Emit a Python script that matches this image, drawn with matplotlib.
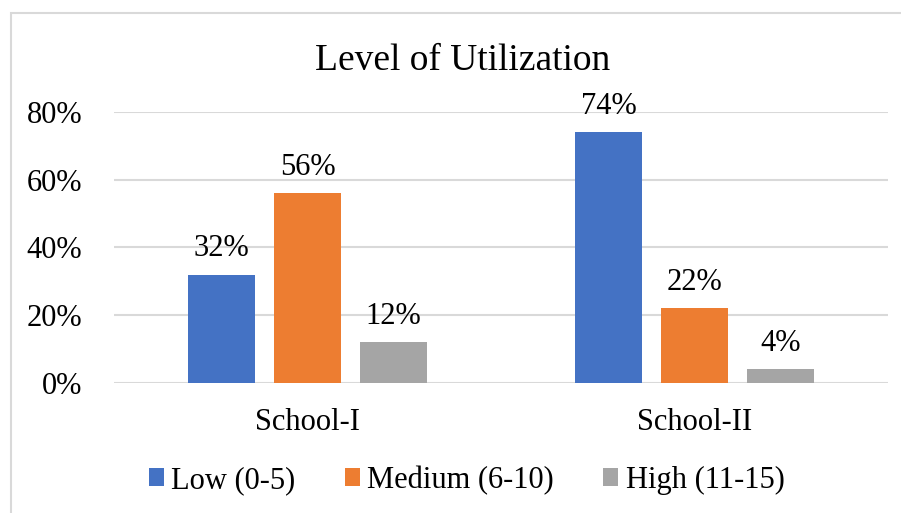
import numpy as np
import matplotlib.pyplot as plt
from matplotlib.patches import Rectangle

schools = ['School-I', 'School-II']
series = ['Low (0-5)', 'Medium (6-10)', 'High (11-15)']
low = [0.32, 0.74]
medium = [0.56, 0.22]
high = [0.12, 0.04]
yticks = [0, 0.2, 0.4, 0.6, 0.8]
ytick_labels = ['0%', '20%', '40%', '60%', '80%']

colors = ['#4472C4', '#ED7D31', '#A5A5A5']

plt.rcParams['font.family'] = ['Liberation Serif', 'DejaVu Serif']

fig = plt.figure(figsize=(9.01, 5.13), dpi=100)
ax = fig.add_axes([114/901, 0.2534, 774/901, 0.5283])

# light frame around the chart (right and bottom edges fall outside the image)
fig.patches.append(Rectangle((11/901, -0.1), 1.2, 1.1 - 13/513, transform=fig.transFigure,
                             fill=False, edgecolor='#D9D9D9', linewidth=1.5))

x = np.arange(len(schools))
w = 0.173
step = 0.222
for i, (vals, name) in enumerate(zip([low, medium, high], series)):
    pos = x + (i - 1) * step
    ax.bar(pos, vals, w, color=colors[i], label=name, zorder=3)
    for p, v in zip(pos, vals):
        ax.annotate('{:.0f}%'.format(v * 100), (p, v), xytext=(0, 8),
                    textcoords='offset points', ha='center', va='bottom', fontsize=22)

ax.set_xlim(-0.5, 1.5)
ax.set_ylim(0, 0.8)
ax.set_yticks(yticks)
ax.set_yticklabels(ytick_labels, fontsize=22)
ax.set_xticks(x)
ax.set_xticklabels(schools, fontsize=22)
ax.yaxis.grid(True, color='#D9D9D9', linewidth=1.5, zorder=0)
ax.tick_params(length=0)
ax.tick_params(axis='y', pad=23)
ax.tick_params(axis='x', pad=18)
for s in ax.spines.values():
    s.set_visible(False)
ax.set_axisbelow(True)

fig.text(0.514, 0.882, 'Level of Utilization', ha='center', va='center', fontsize=27)

fig.legend(loc='center', bbox_to_anchor=(0.518, 0.064), ncol=3, frameon=False, fontsize=22,
           handlelength=0.5, handleheight=0.5, handletextpad=0.25, columnspacing=1.6)

fig.savefig('out.png', dpi=100)
